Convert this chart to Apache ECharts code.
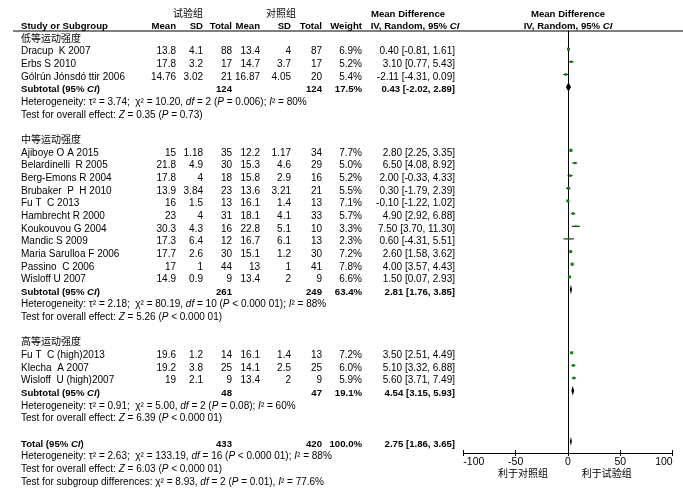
<!DOCTYPE html>
<html><head><meta charset="utf-8">
<script src="https://cdn.jsdelivr.net/npm/echarts@6/dist/echarts.min.js"></script>
<style>html,body{margin:0;padding:0;background:#fff}#c{width:683px;height:498px}</style>
</head><body><div id="c"></div>
<script>
// ---------------- data ----------------
const groupLabels = ['低等运动强度', '中等运动强度', '高等运动强度'];
const groupSizes = [3, 11, 3];
const studyNames = [
  'Dracup  K 2007', 'Erbs S 2010', 'Gólrún Jónsdó ttir 2006',
  'Ajiboye O A 2015', 'Belardinelli  R 2005', 'Berg-Emons R 2004', 'Brubaker  P  H 2010', 'Fu T  C 2013',
  'Hambrecht R 2000', 'Koukouvou G 2004', 'Mandic S 2009', 'Maria Sarulloa F 2006', 'Passino  C 2006', 'Wisloff U 2007',
  'Fu T  C (high)2013', 'Klecha  A 2007', 'Wisloff  U (high)2007'
];
const expMean = [13.8, 17.8, 14.76, 15, 21.8, 17.8, 13.9, 16, 23, 30.3, 17.3, 17.7, 17, 14.9, 19.6, 19.2, 19];
const expSD = [4.1, 3.2, 3.02, 1.18, 4.9, 4, 3.84, 1.5, 4, 4.3, 6.4, 2.6, 1, 0.9, 1.2, 3.8, 2.1];
const expTotal = [88, 17, 21, 35, 30, 18, 23, 13, 31, 16, 12, 30, 44, 9, 14, 25, 9];
const ctlMean = [13.4, 14.7, 16.87, 12.2, 15.3, 15.8, 13.6, 16.1, 18.1, 22.8, 16.7, 15.1, 13, 13.4, 16.1, 14.1, 13.4];
const ctlSD = [4, 3.7, 4.05, 1.17, 4.6, 2.9, 3.21, 1.4, 4.1, 5.1, 6.1, 1.2, 1, 2, 1.4, 2.5, 2];
const ctlTotal = [87, 17, 20, 34, 29, 16, 21, 13, 33, 10, 13, 30, 41, 9, 13, 25, 9];
const weights = [6.9, 5.2, 5.4, 7.7, 5.0, 5.2, 5.5, 7.1, 5.7, 3.3, 2.3, 7.2, 7.8, 6.6, 7.2, 6.0, 5.9];
const mdValues = [0.40, 3.10, -2.11, 2.80, 6.50, 2.00, 0.30, -0.10, 4.90, 7.50, 0.60, 2.60, 4.00, 1.50, 3.50, 5.10, 5.60];
const ciLow = [-0.81, 0.77, -4.31, 2.25, 4.08, -0.33, -1.79, -1.22, 2.92, 3.70, -4.31, 1.58, 3.57, 0.07, 2.51, 3.32, 3.71];
const ciHigh = [1.61, 5.43, 0.09, 3.35, 8.92, 4.33, 2.39, 1.02, 6.88, 11.30, 5.51, 3.62, 4.43, 2.93, 4.49, 6.88, 7.49];

const subExpTotal = [124, 261, 48];
const subCtlTotal = [124, 249, 47];
const subWeights = [17.5, 63.4, 19.1];
const subMD = [0.43, 2.81, 4.54];
const subLow = [-2.02, 1.76, 3.15];
const subHigh = [2.89, 3.85, 5.93];
const subHet = [
  'Heterogeneity: τ² = 3.74;  χ² = 10.20, *df* = 2 (*P* = 0.006); *I*² = 80%',
  'Heterogeneity: τ² = 2.18;  χ² = 80.19, *df* = 10 (*P* < 0.000 01); *I*² = 88%',
  'Heterogeneity: τ² = 0.91;  χ² = 5.00, *df* = 2 (*P* = 0.08); *I*² = 60%'
];
const subTest = [
  'Test for overall effect: *Z* = 0.35 (*P* = 0.73)',
  'Test for overall effect: *Z* = 5.26 (*P* < 0.000 01)',
  'Test for overall effect: *Z* = 6.39 (*P* < 0.000 01)'
];
const totalExp = 433, totalCtl = 420, totalWeight = 100.0;
const totalMD = 2.75, totalLow = 1.86, totalHigh = 3.65;
const totalNotes = [
  'Heterogeneity: τ² = 2.63;  χ² = 133.19, *df* = 16 (*P* < 0.000 01); *I*² = 88%',
  'Test for overall effect: *Z* = 6.03 (*P* < 0.000 01)',
  'Test for subgroup differences: χ² = 8.93, *df* = 2 (*P* = 0.01), *I*² = 77.6%'
];
const xTicks = [-100, -50, 0, 50, 100];
const favourLabels = ['利于对照组', '利于试验组'];

// ---------------- layout ----------------
const ROW0 = 26.4, ROWH = 12.65, GT = 31, GB = 453;
const MARK_OFF = -0.2;
const FONT = '"Liberation Sans", Arial, "Noto Sans CJK SC", sans-serif';
const FS = 10, FSB = 9.6;

// compute row indices
const studyRows = [], subRows = [], groupRows = [];
let r = 1;
groupSizes.forEach((n) => {
  groupRows.push(r); r++;
  for (let j = 0; j < n; j++) { studyRows.push(r); r++; }
  subRows.push(r); r += 4;
});
const totalRow = r;

const ci = (m, l, h) => m.toFixed(2) + ' [' + l.toFixed(2) + ', ' + h.toFixed(2) + ']';

const chart = echarts.init(document.getElementById('c'));
chart.setOption({
  animation: false,
  backgroundColor: '#fff',
  grid: { left: 463.3, width: 209.4, top: GT, height: GB - GT },
  xAxis: [{
    type: 'value', min: -100, max: 100, interval: 50,
    axisLine: { onZero: false, lineStyle: { color: '#000', width: 1 } },
    axisTick: { length: 3, lineStyle: { color: '#000' } },
    axisLabel: { color: '#000', fontSize: 10.5, fontFamily: FONT, margin: 4,
      alignMinLabel: 'left', alignMaxLabel: 'right' },
    splitLine: { show: false }
  }, {
    type: 'value', min: -100, max: 100, interval: 50, position: 'bottom',
    axisLine: { show: false, onZero: false },
    axisTick: { show: true, inside: true, length: 3, lineStyle: { color: '#000' } },
    axisLabel: { show: false }, splitLine: { show: false }
  }],
  yAxis: {
    type: 'value', inverse: true,
    min: (GT - ROW0) / ROWH, max: (GB - ROW0) / ROWH,
    axisLine: { show: true, onZero: true, lineStyle: { color: '#000', width: 1 } },
    axisTick: { show: false }, axisLabel: { show: false }, splitLine: { show: false }
  },
  series: [
    {
      type: 'custom', clip: false,
      encode: { x: [0, 2, 3], y: 1 },
      data: mdValues.map((m, i) => [m, studyRows[i], ciLow[i], ciHigh[i], weights[i]]),
      renderItem(params, api) {
        const rr = api.value(1) + MARK_OFF;
        const p = api.coord([api.value(0), rr]);
        const l = api.coord([api.value(2), rr]);
        const h = api.coord([api.value(3), rr]);
        const s = 1 + api.value(4) * 0.27;
        return { type: 'group', children: [
          { type: 'line', shape: { x1: l[0], y1: p[1], x2: h[0], y2: p[1] }, style: { stroke: '#000', lineWidth: 1 } },
          { type: 'rect', shape: { x: p[0] - s / 2, y: p[1] - s / 2, width: s, height: s }, style: { fill: '#008a00' } }
        ] };
      }
    },
    {
      type: 'custom', clip: false,
      encode: { x: [0, 2, 3], y: 1 },
      data: subMD.map((m, i) => [m, subRows[i], subLow[i], subHigh[i]]).concat([[totalMD, totalRow, totalLow, totalHigh]]),
      renderItem(params, api) {
        const rr = api.value(1) + MARK_OFF;
        const a = api.coord([api.value(2), rr]);
        const t = api.coord([api.value(0), rr - 0.37]);
        const b = api.coord([api.value(3), rr]);
        const d = api.coord([api.value(0), rr + 0.37]);
        return { type: 'polygon', shape: { points: [a, t, b, d] }, style: { fill: '#000' } };
      }
    }
  ]
});

// ---------------- table text ----------------
const yOf = (row) => chart.convertToPixel({ yAxisIndex: 0 }, row);
const xOf = (v) => chart.convertToPixel({ xAxisIndex: 0 }, v);
const els = [];
function rich(str, bold) {
  const parts = String(str).split('*');
  return parts.map((p, i) => p === '' ? '' : '{' + (bold ? 'b' : 'n') + (i % 2 ? 'i' : '') + '|' + p + '}').join('');
}
const RICH = {
  n: { fontFamily: FONT, fontSize: FS, fill: '#000', color: '#000' },
  ni: { fontFamily: FONT, fontSize: FS, fontStyle: 'italic', fill: '#000', color: '#000' },
  b: { fontFamily: FONT, fontSize: FSB, fontWeight: 'bold', fill: '#000', color: '#000' },
  bi: { fontFamily: FONT, fontSize: FSB, fontWeight: 'bold', fontStyle: 'italic', fill: '#000', color: '#000' }
};
function T(x, y, str, align, bold) {
  els.push({
    type: 'text', x: x, y: y, silent: true,
    style: { text: rich(str, bold), rich: RICH, font: (bold ? 'bold ' + FSB : FS) + 'px ' + FONT,
      fill: '#000', textAlign: align || 'left', align: align || 'left',
      textVerticalAlign: 'middle', verticalAlign: 'middle' }
  });
}
const XN = 21;
const COLS = { em: 176, esd: 203, et: 232, cm: 260, csd: 291, ct: 322, w: 362, ci: 455 };

// headers
T(188, 14, '试验组', 'center', false);
T(281, 14, '对照组', 'center', false);
T(408, 14, 'Mean Difference', 'center', true);
T(568, 14, 'Mean Difference', 'center', true);
const hy = yOf(0);
T(XN, hy, 'Study or Subgroup', 'left', true);
T(COLS.em, hy, 'Mean', 'right', true);
T(COLS.esd, hy, 'SD', 'right', true);
T(COLS.et, hy, 'Total', 'right', true);
T(COLS.cm, hy, 'Mean', 'right', true);
T(COLS.csd, hy, 'SD', 'right', true);
T(COLS.ct, hy, 'Total', 'right', true);
T(COLS.w, hy, 'Weight', 'right', true);
T(415, hy, 'IV, Random, 95% *CI*', 'center', true);
T(568, hy, 'IV, Random, 95% *CI*', 'center', true);
els.push({ type: 'line', silent: true, shape: { x1: 13, y1: GT, x2: 683, y2: GT }, style: { stroke: '#000', lineWidth: 1 } });

// groups
groupLabels.forEach((g, i) => T(XN, yOf(groupRows[i]), g, 'left', false));
studyNames.forEach((nm, i) => {
  const y = yOf(studyRows[i]);
  T(XN, y, nm, 'left', false);
  T(COLS.em, y, expMean[i], 'right');
  T(COLS.esd, y, expSD[i], 'right');
  T(COLS.et, y, expTotal[i], 'right');
  T(COLS.cm, y, ctlMean[i], 'right');
  T(COLS.csd, y, ctlSD[i], 'right');
  T(COLS.ct, y, ctlTotal[i], 'right');
  T(COLS.w, y, weights[i].toFixed(1) + '%', 'right');
  T(COLS.ci, y, ci(mdValues[i], ciLow[i], ciHigh[i]), 'right');
});
subRows.forEach((row, i) => {
  const y = yOf(row);
  T(XN, y, 'Subtotal (95% *CI*)', 'left', true);
  T(COLS.et, y, subExpTotal[i], 'right', true);
  T(COLS.ct, y, subCtlTotal[i], 'right', true);
  T(COLS.w, y, subWeights[i].toFixed(1) + '%', 'right', true);
  T(COLS.ci, y, ci(subMD[i], subLow[i], subHigh[i]), 'right', true);
  T(XN, yOf(row + 1), subHet[i], 'left', false);
  T(XN, yOf(row + 2), subTest[i], 'left', false);
});
const ty = yOf(totalRow);
T(XN, ty, 'Total (95% *CI*)', 'left', true);
T(COLS.et, ty, totalExp, 'right', true);
T(COLS.ct, ty, totalCtl, 'right', true);
T(COLS.w, ty, totalWeight.toFixed(1) + '%', 'right', true);
T(COLS.ci, ty, ci(totalMD, totalLow, totalHigh), 'right', true);
totalNotes.forEach((s, i) => T(XN, yOf(totalRow + 1 + i), s, 'left', false));
T(xOf(-43), 474, favourLabels[0], 'center', false);
T(xOf(37), 474, favourLabels[1], 'center', false);

chart.setOption({ graphic: { elements: els } });
</script>
</body></html>
